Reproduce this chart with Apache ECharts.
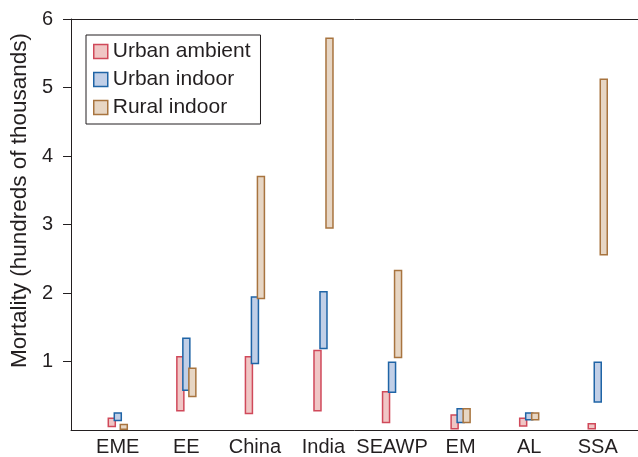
<!DOCTYPE html>
<html>
<head>
<meta charset="utf-8">
<script src="https://cdn.jsdelivr.net/npm/echarts@6/dist/echarts.min.js"></script>
<style>
  html, body { margin: 0; padding: 0; background: #fff; }
  #chart { width: 638px; height: 457px; }
</style>
</head>
<body>
<div id="chart"></div>
<script>
// Regions along the horizontal axis
const regions = ['EME', 'EE', 'China', 'India', 'SEAWP', 'EM', 'AL', 'SSA'];

// Mortality ranges (hundreds of thousands): [low, high] per region
const urbanAmbient = [[0.05, 0.17], [0.28, 1.07], [0.24, 1.07], [0.28, 1.16], [0.11, 0.56], [0.02, 0.22], [0.06, 0.17], [0.02, 0.09]];
const urbanIndoor  = [[0.14, 0.25], [0.58, 1.34], [0.97, 1.94], [1.19, 2.02], [0.55, 0.99], [0.11, 0.31], [0.15, 0.25], [0.41, 0.99]];
const ruralIndoor  = [[0.01, 0.08], [0.49, 0.90], [1.92, 3.70], [2.95, 5.72], [1.06, 2.33], [0.11, 0.31], [0.15, 0.25], [2.56, 5.12]];

const yTicks = [1, 2, 3, 4, 5, 6];

const FONT = '"Liberation Sans", Arial, Helvetica, sans-serif';
const INK = '#231f20';

const styles = {
  'Urban ambient': { fill: '#f0c6c5', stroke: '#d0495a', shift: -6 },
  'Urban indoor':  { fill: '#c1cfe7', stroke: '#1f64a6', shift: 0 },
  'Rural indoor':  { fill: '#e7d6c4', stroke: '#a8743f', shift: 6 }
};

function rangeSeries(name, ranges) {
  const st = styles[name];
  return {
    name: name,
    type: 'custom',
    data: ranges.map((r, i) => [i, r[0], r[1]]),
    encode: { x: 0, y: [1, 2] },
    itemStyle: { color: st.fill, borderColor: st.stroke, borderWidth: 1.5 },
    renderItem: function (params, api) {
      const x = api.value(0);
      const top = api.coord([x, api.value(2)]);
      const bottom = api.coord([x, api.value(1)]);
      const w = 7;
      return {
        type: 'rect',
        shape: { x: top[0] + st.shift - w / 2, y: top[1], width: w, height: bottom[1] - top[1] },
        style: { fill: st.fill, stroke: st.stroke, lineWidth: 1.5 }
      };
    }
  };
}

const chart = echarts.init(document.getElementById('chart'), null, { renderer: 'canvas' });

chart.setOption({
  animation: false,
  backgroundColor: '#ffffff',
  grid: { left: 71, right: 0, top: 19, bottom: 27, containLabel: false },
  xAxis: [{
    type: 'value',
    min: -0.682,
    max: 7.587,
    splitLine: { show: false },
    axisLine: { show: true, onZero: false, lineStyle: { color: INK, width: 1 } },
    axisTick: { show: false },
    axisLabel: {
      customValues: regions.map((_, i) => i),
      formatter: v => regions[Math.round(v)],
      color: INK, fontSize: 20, fontFamily: FONT, margin: 7
    }
  }, {
    type: 'value',
    position: 'top',
    min: -0.682,
    max: 7.587,
    splitLine: { show: false },
    axisLine: { show: true, onZero: false, lineStyle: { color: INK, width: 1 } },
    axisTick: { show: false },
    axisLabel: { show: false }
  }],
  yAxis: {
    type: 'value',
    min: 0,
    max: 6,
    interval: 1,
    name: 'Mortality (hundreds of thousands)',
    nameLocation: 'middle',
    nameGap: 34,
    nameTextStyle: { color: INK, fontSize: 22.5, fontFamily: FONT, padding: [0, 0, 0, 48] },
    splitLine: { show: false },
    axisLine: { show: true, onZero: false, lineStyle: { color: INK, width: 1 } },
    axisTick: { show: true, customValues: yTicks, length: 8, lineStyle: { color: INK } },
    axisLabel: { customValues: yTicks, color: INK, fontSize: 20, fontFamily: FONT, margin: 18 }
  },
  legend: {
    orient: 'vertical',
    left: 86,
    top: 35,
    padding: [6, 10, 6, 7],
    itemWidth: 14,
    itemHeight: 14,
    itemGap: 7,
    borderColor: INK,
    borderWidth: 1,
    textStyle: { color: INK, fontSize: 21, fontFamily: FONT },
    data: Object.keys(styles).map(n => ({
      name: n,
      icon: 'rect',
      itemStyle: { color: styles[n].fill, borderColor: styles[n].stroke, borderWidth: 1.5 }
    }))
  },
  series: [
    rangeSeries('Urban ambient', urbanAmbient),
    rangeSeries('Urban indoor', urbanIndoor),
    rangeSeries('Rural indoor', ruralIndoor)
  ]
});
</script>
</body>
</html>
